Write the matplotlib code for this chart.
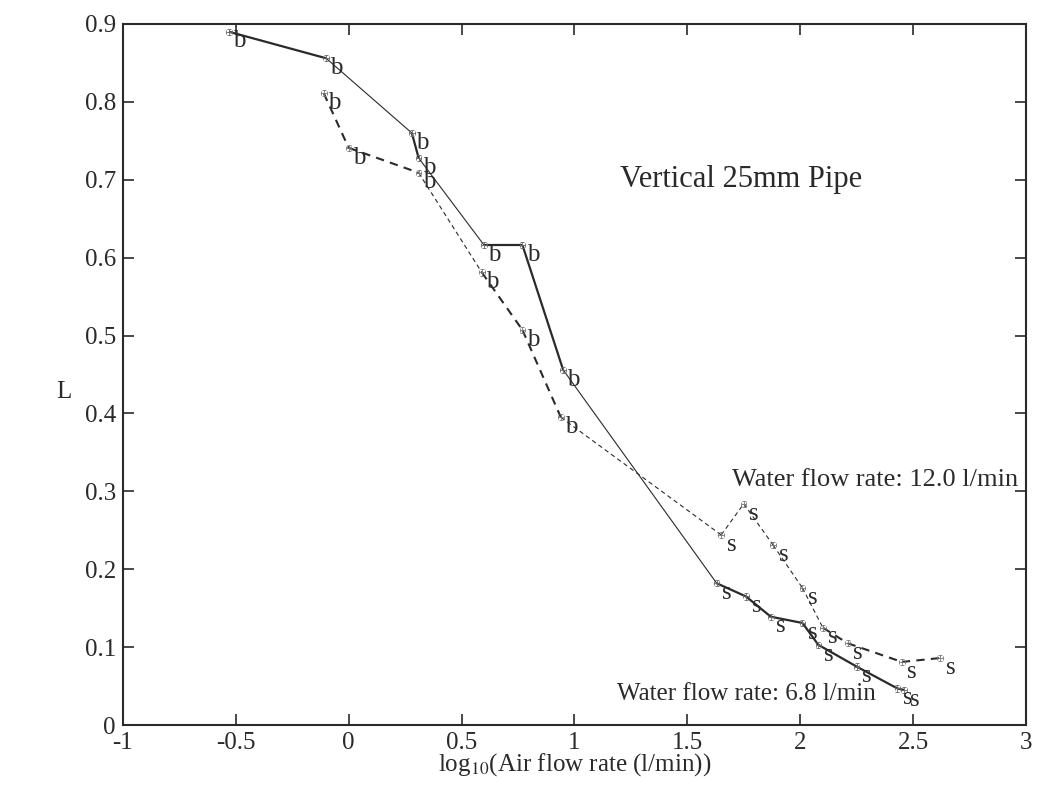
import matplotlib
matplotlib.use('Agg')
import matplotlib.pyplot as plt

# Water flow rate 6.8 l/min (solid line)
x_68 = [-0.53, -0.10, 0.28, 0.31, 0.60, 0.77, 0.95, 1.63, 1.76, 1.87,
        2.01, 2.08, 2.25, 2.43, 2.46]
L_68 = [0.890, 0.856, 0.760, 0.728, 0.616, 0.616, 0.456, 0.182, 0.165,
        0.139, 0.131, 0.103, 0.075, 0.047, 0.045]
flow_68 = ['b', 'b', 'b', 'b', 'b', 'b', 'b', 's', 's', 's',
           's', 's', 's', 's', 's']

# Water flow rate 12.0 l/min (dashed line)
x_120 = [-0.11, 0.00, 0.31, 0.59, 0.77, 0.94, 1.65, 1.75, 1.88, 2.01,
         2.10, 2.21, 2.45, 2.62]
L_120 = [0.811, 0.741, 0.709, 0.581, 0.507, 0.395, 0.244, 0.284, 0.231,
         0.176, 0.125, 0.105, 0.081, 0.086]
flow_120 = ['b', 'b', 'b', 'b', 'b', 'b', 's', 's', 's', 's',
            's', 's', 's', 's']

x_ticks = [-1, -0.5, 0, 0.5, 1, 1.5, 2, 2.5, 3]
x_ticklabels = ['-1', '-0.5', '0', '0.5', '1', '1.5', '2', '2.5', '3']
y_ticks = [0, 0.1, 0.2, 0.3, 0.4, 0.5, 0.6, 0.7, 0.8, 0.9]
y_ticklabels = ['0', '0.1', '0.2', '0.3', '0.4', '0.5', '0.6', '0.7',
                '0.8', '0.9']

# line widths per segment (scan looks thick / thin in places)
lw_68 = [1.6, 0.8, 1.6, 0.8, 1.6, 1.6, 0.8, 1.6, 1.6, 1.6, 1.6, 1.6, 1.6, 1.6]
lw_120 = [1.5, 1.5, 0.8, 1.5, 1.5, 0.8, 0.8, 0.8, 0.8, 0.8, 1.5, 1.5, 1.5]

plt.rcParams['font.family'] = ['Liberation Serif', 'DejaVu Serif']
plt.rcParams['mathtext.fontset'] = 'stix'
plt.rcParams['axes.unicode_minus'] = False

fig = plt.figure(figsize=(10.41, 7.99), dpi=100)
ax = fig.add_axes([0.118, 0.0926, 0.8676, 0.8774])

ink = '#2a2a2a'

for i in range(len(x_68) - 1):
    ax.plot(x_68[i:i + 2], L_68[i:i + 2], '-', color=ink, lw=lw_68[i],
            solid_capstyle='butt')
for i in range(len(x_120) - 1):
    ax.plot(x_120[i:i + 2], L_120[i:i + 2], '--', color=ink,
            lw=lw_120[i], dashes=(4, 3))

# small error marks at each point
ax.errorbar(x_68, L_68, xerr=0.012, yerr=0.004, fmt='none', ecolor='#666666',
            elinewidth=0.6, capsize=1.5, capthick=0.6)
ax.errorbar(x_120, L_120, xerr=0.012, yerr=0.004, fmt='none',
            ecolor='#777777', elinewidth=0.6, capsize=1.5, capthick=0.6)

for xx, yy, s in zip(x_68, L_68, flow_68):
    ax.annotate(s, (xx, yy), xytext=(7.5, -7), textcoords='offset points',
                ha='center', va='center', fontsize=18, color=ink)
for xx, yy, s in zip(x_120, L_120, flow_120):
    ax.annotate(s, (xx, yy), xytext=(7.5, -7), textcoords='offset points',
                ha='center', va='center', fontsize=18, color=ink)

ax.text(1.20, 0.70, 'Vertical 25mm Pipe', fontsize=22, ha='left',
        va='center', color=ink)
ax.text(1.70, 0.314, 'Water flow rate: 12.0 l/min', fontsize=19, ha='left',
        va='center', color=ink)
ax.text(1.19, 0.040, 'Water flow rate: 6.8 l/min', fontsize=18, ha='left',
        va='center', color=ink)

ax.set_xlim(-1, 3)
ax.set_ylim(0, 0.9)
ax.set_xticks(x_ticks)
ax.set_xticklabels(x_ticklabels)
ax.set_yticks(y_ticks)
ax.set_yticklabels(y_ticklabels)
ax.tick_params(direction='in', length=8, width=1.2, top=True, right=True,
               labelsize=18, colors=ink, pad=5)
for sp in ax.spines.values():
    sp.set_linewidth(1.5)
    sp.set_color(ink)

ax.set_xlabel(r'log$_{10}$(Air flow rate (l/min))', fontsize=18, color=ink,
              labelpad=-2)
ax.set_ylabel('L', fontsize=18, rotation=0, color=ink)
ax.yaxis.set_label_coords(-0.065, 0.46)

fig.savefig('out.png', dpi=100, facecolor='white')
